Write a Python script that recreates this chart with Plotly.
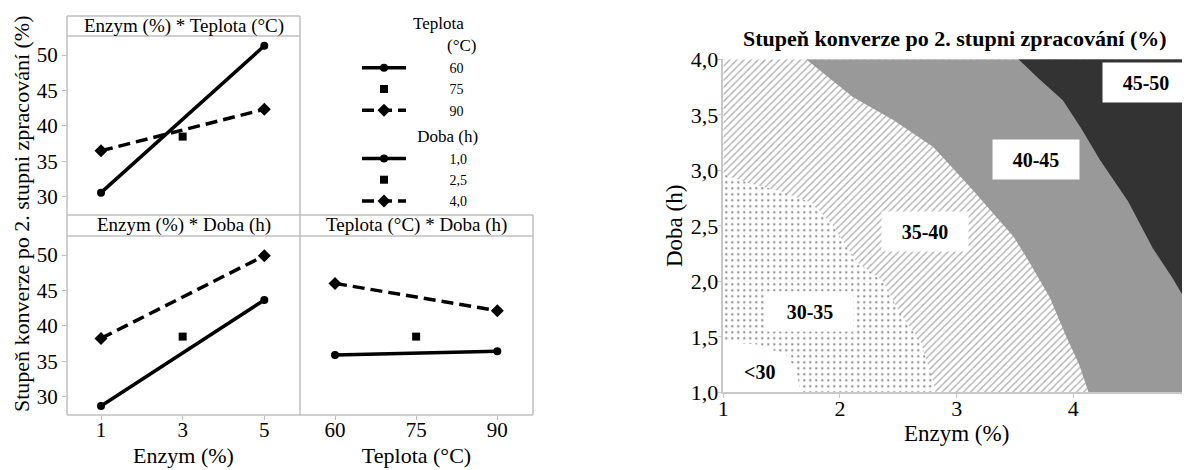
import plotly.graph_objects as go

# ---------------- data ----------------
enzym_levels = [1, 5]
enzym_center = [3]
teplota_levels = [60, 90]
teplota_center = [75]

# Enzym * Teplota (means of conversion, %)
et_teplota60 = [30.6, 51.3]
et_teplota75 = [38.5]
et_teplota90 = [36.5, 42.35]

# Enzym * Doba
ed_doba10 = [28.73, 43.66]
ed_doba25 = [38.5]
ed_doba40 = [38.25, 49.9]

# Teplota * Doba
td_doba10 = [35.89, 36.45]
td_doba25 = [38.5]
td_doba40 = [46.0, 42.15]

# contour lines of the response surface (Enzym %, Doba h)
c30_x = [1.0, 1.30, 1.55, 1.63, 1.66]
c30_y = [1.45, 1.43, 1.33, 1.18, 1.0]
c35_x = [1.0, 1.2, 1.5, 1.77, 1.94, 2.14, 2.37, 2.51, 2.69, 2.80, 2.82]
c35_y = [2.97, 2.89, 2.81, 2.70, 2.50, 2.18, 2.0, 1.72, 1.46, 1.1, 1.0]
c40_x = [1.71, 2.11, 2.46, 2.80, 3.14, 3.49, 3.63, 3.80, 3.94, 4.05, 4.13]
c40_y = [4.0, 3.66, 3.45, 3.21, 2.82, 2.40, 2.16, 1.85, 1.5, 1.25, 1.0]
c45_x = [3.53, 3.70, 3.91, 4.06, 4.23, 4.47, 4.68, 4.85, 5.0]
c45_y = [4.0, 3.83, 3.63, 3.39, 3.09, 2.72, 2.30, 2.03, 1.76]

region_labels = ["<30", "30-35", "35-40", "40-45", "45-50"]
label_x = [1.31, 1.74, 2.73, 3.68, 4.62]
label_y = [1.18, 1.73, 2.45, 3.10, 3.79]

X_MIN, X_MAX, Y_MIN, Y_MAX = 1, 5, 1, 4

# ---------------- figure ----------------
OFF = 8                       # page body margin of the html page
W, H = 1190 - OFF, 470 - OFF
FONT = "Liberation Serif"
FRAME = "#bfbfbf"
LW = 3.5

def px(x):
    return (x - OFF) / W

def py(y):
    return 1 - (y - OFF) / H

fig = go.Figure()

solid = dict(color="black", width=LW)
dashed = dict(color="black", width=LW, dash="12px,6px")

def add_set(xs, xc, y_lo, y_c, y_hi, xa, ya, group, names, show, gtitle):
    fig.add_trace(go.Scatter(x=xs, y=y_lo, mode="lines+markers", line=solid,
                             marker=dict(symbol="circle", size=8, color="black"),
                             xaxis=xa, yaxis=ya, legendgroup=group, name=names[0],
                             showlegend=show, legendgrouptitle_text=gtitle))
    fig.add_trace(go.Scatter(x=xc, y=y_c, mode="markers",
                             marker=dict(symbol="square", size=8, color="black"),
                             xaxis=xa, yaxis=ya, legendgroup=group, name=names[1],
                             showlegend=show))
    fig.add_trace(go.Scatter(x=xs, y=y_hi, mode="lines+markers", line=dashed,
                             marker=dict(symbol="diamond", size=10, color="black"),
                             xaxis=xa, yaxis=ya, legendgroup=group, name=names[2],
                             showlegend=show))

NB = "\u00a0" * 11
add_set(enzym_levels, enzym_center, et_teplota60, et_teplota75, et_teplota90,
        "x", "y", "T", [NB + "60", NB + "75", NB + "90"], True,
        "\u00a0" * 12 + "Teplota<br>" + "\u00a0" * 20 + "(°C)")
add_set(enzym_levels, enzym_center, ed_doba10, ed_doba25, ed_doba40,
        "x3", "y3", "D", [NB + "1,0", NB + "2,5", NB + "4,0"], True,
        "\u00a0" * 13 + "Doba (h)")
add_set(teplota_levels, teplota_center, td_doba10, td_doba25, td_doba40,
        "x4", "y4", "D", ["1,0", "2,5", "4,0"], False, None)

# ---- contour plot (filled regions, nested) ----
fig.add_trace(go.Scatter(x=c30_x + [X_MAX, X_MAX, X_MIN], y=c30_y + [Y_MIN, Y_MAX, Y_MAX],
                         fill="toself", mode="none", fillcolor="white",
                         fillpattern=dict(shape=".", size=6, solidity=0.12,
                                          fgcolor="#222222", bgcolor="white"),
                         xaxis="x2", yaxis="y2", showlegend=False, hoverinfo="skip"))
fig.add_trace(go.Scatter(x=c35_x + [X_MAX, X_MAX, X_MIN], y=c35_y + [Y_MIN, Y_MAX, Y_MAX],
                         fill="toself", mode="none", fillcolor="white",
                         fillpattern=dict(shape="/", size=5, solidity=0.25,
                                          fgcolor="#555555", bgcolor="white"),
                         xaxis="x2", yaxis="y2", showlegend=False, hoverinfo="skip"))
fig.add_trace(go.Scatter(x=c40_x + [X_MAX, X_MAX], y=c40_y + [Y_MIN, Y_MAX],
                         fill="toself", mode="none", fillcolor="#999999",
                         xaxis="x2", yaxis="y2", showlegend=False, hoverinfo="skip"))
fig.add_trace(go.Scatter(x=c45_x + [X_MAX], y=c45_y + [Y_MAX],
                         fill="toself", mode="none", fillcolor="#333333",
                         xaxis="x2", yaxis="y2", showlegend=False, hoverinfo="skip"))

for t, xv, yv in zip(region_labels, label_x, label_y):
    boxed = t != "<30"
    fig.add_annotation(x=xv, y=yv, xref="x2", yref="y2", text="<b>%s</b>" % t,
                       showarrow=False, font=dict(family=FONT, size=20, color="black"),
                       bgcolor="white" if boxed else None, xanchor="center",
                       yanchor="middle",
                       width=80 if boxed else None, height=33 if boxed else None,
                       borderpad=3)

# ---------------- axes ----------------
L, M, R = 67, 300, 533
T0, T1, MID0, MID1, B = 16, 36, 215, 236, 415
x1_dom = [px(L), px(M)]
x4_dom = [px(M), px(R)]
y1_dom = [py(MID0), py(T1)]
y3_dom = [py(B), py(MID1)]
yr = [27.45, 52.68]
tick = dict(size=21, family=FONT, color="black")
xtitle = dict(size=22, family=FONT, color="black")
common = dict(showgrid=False, zeroline=False, showline=False, automargin=False)

fig.update_layout(
    xaxis=dict(domain=x1_dom, range=[0.167, 5.874], anchor="y", showticklabels=False,
               ticks="", **common),
    yaxis=dict(domain=y1_dom, range=yr, anchor="x", tickvals=[30, 35, 40, 45, 50],
               ticks="outside", ticklen=4, tickcolor=FRAME, tickfont=tick, **common),
    xaxis3=dict(domain=x1_dom, range=[0.167, 5.874], anchor="y3", tickvals=[1, 3, 5],
                ticks="outside", ticklen=4, tickcolor=FRAME, tickfont=tick,
                ticklabelstandoff=-8,
                title=dict(text="Enzym (%)", font=xtitle, standoff=6), **common),
    yaxis3=dict(domain=y3_dom, range=yr, anchor="x3", tickvals=[30, 35, 40, 45, 50],
                ticks="outside", ticklen=4, tickcolor=FRAME, tickfont=tick, **common),
    xaxis4=dict(domain=x4_dom, range=[53.53, 96.6], anchor="y4", tickvals=[60, 75, 90],
                ticks="outside", ticklen=4, tickcolor=FRAME, tickfont=tick,
                ticklabelstandoff=-8,
                title=dict(text="Teplota (°C)", font=xtitle, standoff=6), **common),
    yaxis4=dict(domain=y3_dom, range=yr, anchor="x4", showticklabels=False, ticks="",
                **common),
    xaxis2=dict(domain=[px(723.3), 1.0], range=[X_MIN, X_MAX], anchor="y2",
                tickvals=[1, 2, 3, 4, 5], ticks="outside", ticklen=4, tickcolor="#c8c8c8",
                showline=True, linecolor="#c8c8c8", linewidth=1.5, ticklabelstandoff=-8,
                tickfont=dict(size=22, family=FONT), showgrid=False, zeroline=False,
                automargin=False,
                title=dict(text="Enzym (%)", font=dict(size=23, family=FONT), standoff=2)),
    yaxis2=dict(domain=[py(392.3), py(59.3)], range=[Y_MIN, Y_MAX], anchor="x2",
                tickvals=[1, 1.5, 2, 2.5, 3, 3.5, 4], tickformat=".1f", ticks="outside",
                ticklen=4, tickcolor="#c8c8c8", showline=True, linecolor="#c8c8c8",
                linewidth=1.5, tickfont=dict(size=22, family=FONT), showgrid=False,
                ticklabelstandoff=-5,
                zeroline=False, automargin=False,
                title=dict(text="Doba (h)", font=dict(size=23, family=FONT), standoff=2)),
    separators=", ",
    width=W, height=H, margin=dict(l=0, r=0, t=0, b=0, autoexpand=False),
    paper_bgcolor="white", plot_bgcolor="white",
    font=dict(family=FONT, color="black", size=17),
    legend=dict(x=px(357), y=py(5), xanchor="left", yanchor="top",
                font=dict(size=14, family=FONT), grouptitlefont=dict(size=17, family=FONT),
                traceorder="grouped", tracegroupgap=2, itemwidth=44,
                bgcolor="rgba(0,0,0,0)"),
)

# frame of the interaction-plot matrix
frame_lines = [
    (L, T0, L, B), (M, T0, M, B), (R, MID0, R, B),
    (L, T0, M, T0), (L, T1, M, T1), (L, MID0, R, MID0), (L, MID1, R, MID1), (L, B, R, B),
]
for x0, y0, x1, y1 in frame_lines:
    fig.add_shape(type="line", xref="paper", yref="paper", x0=px(x0), y0=py(y0),
                  x1=px(x1), y1=py(y1), line=dict(color=FRAME, width=1.5), layer="above")

headers = [("Enzym (%) * Teplota (°C)", (L + M) / 2, (T0 + T1) / 2),
           ("Enzym (%) * Doba (h)", (L + M) / 2, (MID0 + MID1) / 2),
           ("Teplota (°C) * Doba (h)", (M + R) / 2, (MID0 + MID1) / 2)]
for t, hx, hy in headers:
    fig.add_annotation(x=px(hx), y=py(hy), xref="paper", yref="paper", text=t,
                       showarrow=False, font=dict(size=19, family=FONT),
                       xanchor="center", yanchor="middle")

fig.add_annotation(x=px(21), y=py(214), xref="paper", yref="paper",
                   text="Stupeň konverze po 2. stupni zpracování (%)", textangle=-90,
                   showarrow=False, font=dict(size=22, family=FONT),
                   xanchor="center", yanchor="middle")

fig.add_annotation(x=px(955), y=py(38), xref="paper", yref="paper",
                   text="<b>Stupeň konverze po 2. stupni zpracování (%)</b>",
                   showarrow=False, font=dict(size=22, family=FONT),
                   xanchor="center", yanchor="middle")

fig.write_html("out.html")
